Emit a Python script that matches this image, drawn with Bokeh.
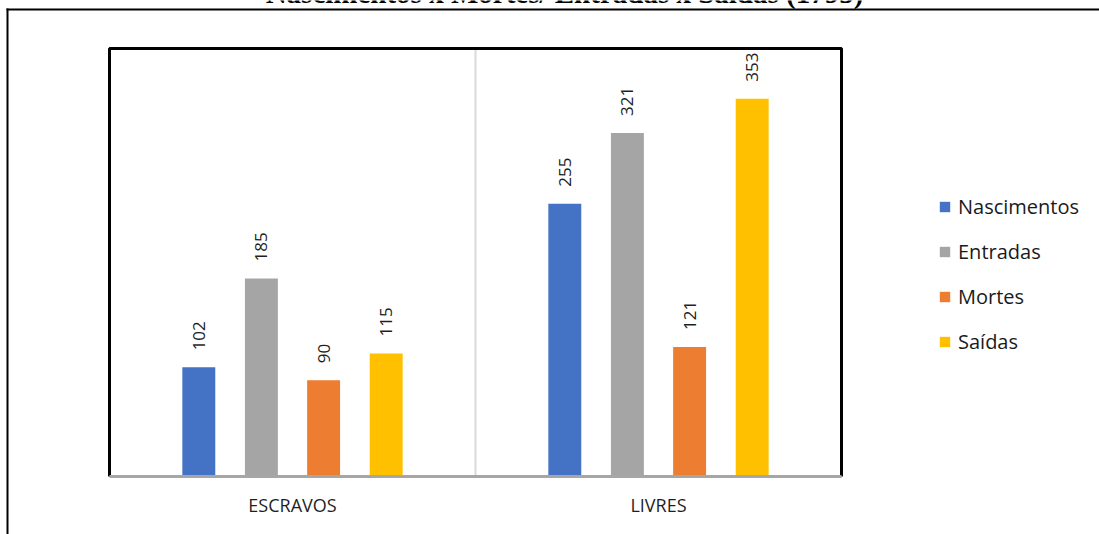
import math
from bokeh.plotting import figure
from bokeh.models import Legend, ColumnDataSource, Range1d
from bokeh.core.properties import value
from bokeh.embed import file_html
from bokeh.resources import INLINE

# ---- data ----
grupos = ["ESCRAVOS", "LIVRES"]
series = ["Nascimentos", "Entradas", "Mortes", "Saídas"]
nascimentos = [102, 255]
entradas = [185, 321]
mortes = [90, 121]
saidas = [115, 353]
cores = ["#4472C4", "#A5A5A5", "#ED7D31", "#FFC000"]
titulo = "Nascimentos x Mortes/ Entradas x Saídas (1795)"
y_max = 400

valores = [nascimentos, entradas, mortes, saidas]
offsets = [-0.256, -0.085, 0.085, 0.256]

# ---- canvas geometry (pixels) ----
W, H = 1099, 534
PL, PR, PT, PB = 109, 841, 48, 476          # inner plot area
n = len(grupos)
ppu_x = (PR - PL) / n
ppu_y = (PB - PT) / y_max

p = figure(width=W, height=H, x_range=Range1d(0, W), y_range=Range1d(H, 0),
           output_backend="svg", toolbar_location=None,
           min_border=0, min_border_left=0, min_border_right=0,
           min_border_top=0, min_border_bottom=0)
p.extra_x_ranges = {"cat": Range1d(-PL / ppu_x, n + (W - PR) / ppu_x)}
p.extra_y_ranges = {"val": Range1d(-(H - PB) / ppu_y, y_max + PT / ppu_y)}
p.xaxis.visible = False
p.yaxis.visible = False
p.xgrid.visible = False
p.ygrid.visible = False
p.outline_line_color = None
p.background_fill_color = "white"
p.border_fill_color = "white"

# ---- clipped title and outer chart border (left + top) ----
p.text(x=[564], y=[-8], text=[titulo], text_align="center",
       text_baseline="alphabetic", text_font=value("Liberation Serif"),
       text_font_style="bold", text_font_size="29px", text_color="black")
p.segment(x0=[6, 7], y0=[9, 8], x1=[W, 7], y1=[9, H], line_color="black",
          line_width=2)

# ---- category divider ----
p.segment(x0=[1], y0=[0], x1=[1], y1=[y_max], x_range_name="cat",
          y_range_name="val", line_color="#D9D9D9", line_width=2)

# ---- bars + data labels ----
centros = [i + 0.5 for i in range(n)]
items = []
for s, v, off, c in zip(series, valores, offsets, cores):
    src = ColumnDataSource(dict(x=[cx + off for cx in centros], top=v,
                                lbl=[str(t) for t in v]))
    r = p.vbar(x="x", top="top", bottom=0, width=0.09, source=src,
               x_range_name="cat", y_range_name="val",
               fill_color=c, line_color=None)
    items.append((s, [r]))
    p.text(x="x", y="top", text="lbl", source=src, x_range_name="cat",
           y_range_name="val", angle=math.pi / 2, text_align="left",
           text_baseline="middle", y_offset=-17,
           text_font=value("Open Sans"), text_font_size="17px",
           text_color="#1f1f1f")

# ---- inner plot frame: black left/top/right, grey category axis line ----
p.multi_line(xs=[[0, 0, n, n]], ys=[[0, y_max, y_max, 0]],
             x_range_name="cat", y_range_name="val",
             line_color="black", line_width=3)
p.segment(x0=[0], y0=[0], x1=[n], y1=[0], x_range_name="cat",
          y_range_name="val", line_color="#A6A6A6", line_width=3)

# ---- category labels ----
p.text(x=centros, y=[504] * n, text=grupos, x_range_name="cat",
       text_align="center", text_baseline="middle",
       text_font=value("Open Sans"), text_font_size="18px",
       text_color="#1f1f1f")

legend = Legend(items=items, location=(938, 179), orientation="vertical",
                glyph_width=13, glyph_height=13, label_standoff=7,
                spacing=18, padding=0, margin=0,
                border_line_color=None, background_fill_alpha=0,
                label_text_font="Open Sans", label_text_font_size="20px",
                label_text_color="#1a1a1a")
p.add_layout(legend, "center")

open("out.html", "w").write(file_html(p, INLINE))
